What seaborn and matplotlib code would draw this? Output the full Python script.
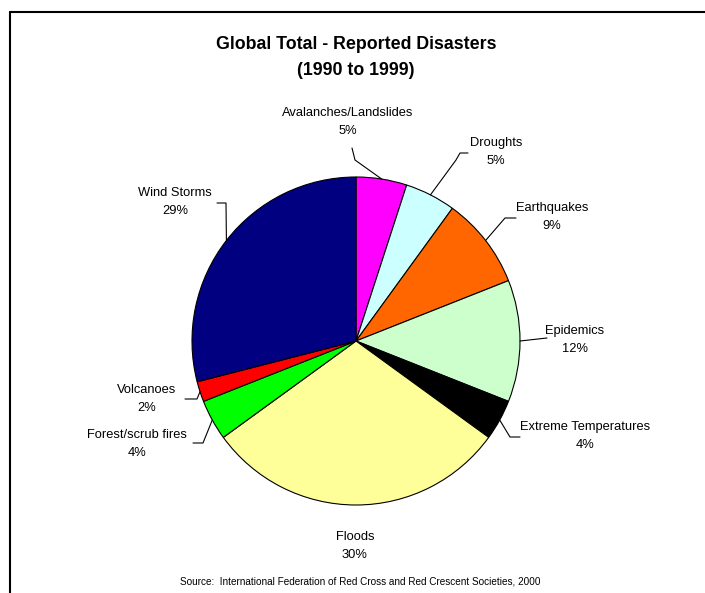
import numpy as np
import matplotlib
matplotlib.use("Agg")
import matplotlib.pyplot as plt
import seaborn as sns

# ---- data ----
categories = ["Avalanches/Landslides", "Droughts", "Earthquakes", "Epidemics",
              "Extreme Temperatures", "Floods", "Forest/scrub fires",
              "Volcanoes", "Wind Storms"]
shares = [5, 5, 9, 12, 4, 30, 4, 2, 29]
colors = ["#FF00FF", "#CCFFFF", "#FF6600", "#CCFFCC", "#000000",
          "#FFFF99", "#00FF00", "#FF0000", "#000080"]
title_text = "Global Total - Reported Disasters\n(1990 to 1999)"
source_text = "Source:  International Federation of Red Cross and Red Crescent Societies, 2000"

sns.set_theme(style="white")
plt.rcParams['font.family'] = ['Liberation Sans', 'DejaVu Sans']

W, H = 705, 593
fig = plt.figure(figsize=(W / 100, H / 100), dpi=100)
ax = fig.add_axes([0, 0, 1, 1])

cx, cy, R = 356, 341, 164
ax.pie(shares, colors=colors, startangle=-90, counterclock=True,
       center=(cx, cy), radius=R,
       wedgeprops=dict(edgecolor="black", linewidth=0.8))
ax.set_xlim(0, W)
ax.set_ylim(H, 0)
ax.set_aspect("equal")
ax.axis("off")

# label layout (pixel coords): text centre, leader path after the wedge edge point
label_pos = [(348, 122), (496, 152), (552, 217), (575, 340), (585, 436),
             (355, 546), (137, 444), (147, 399), (175, 202)]
leader_paths = [[(355, 160), (352, 148)],
                [(456, 160), (460, 153), (468, 153)],
                [(505, 218), (516, 218)],
                [(547, 338)],
                [(510, 437), (520, 437)],
                None,
                [(203, 443), (193, 443)],
                [(197, 399), (185, 399)],
                [(226, 203), (217, 203)]]

cum = np.cumsum([0] + shares[:-1])
for name, v, c0, pos, path in zip(categories, shares, cum, label_pos, leader_paths):
    theta = np.deg2rad(-90 + 3.6 * (c0 + v / 2))
    ex, ey = cx + R * np.cos(theta), cy + R * np.sin(theta)
    if path:
        xs = [ex] + [p[0] for p in path]
        ys = [ey] + [p[1] for p in path]
        ax.plot(xs, ys, color="black", lw=0.8, clip_on=False)
    ax.text(pos[0], pos[1], f"{name}\n{v}%", ha="center", va="center",
            multialignment="center", fontsize=9.3, linespacing=1.75, color="black")

ax.text(356, 57.5, title_text, ha="center", va="center", fontsize=12.8,
        fontweight="bold", linespacing=1.75, color="black")
ax.text(360, 582, source_text, ha="center", va="center", fontsize=7.2, color="black")

# frame lines (top and left)
ax.plot([10, W], [12, 12], color="black", lw=1.5, clip_on=False)
ax.plot([10, 10], [12, H], color="black", lw=1.5, clip_on=False)

fig.savefig("out.png", dpi=100)
